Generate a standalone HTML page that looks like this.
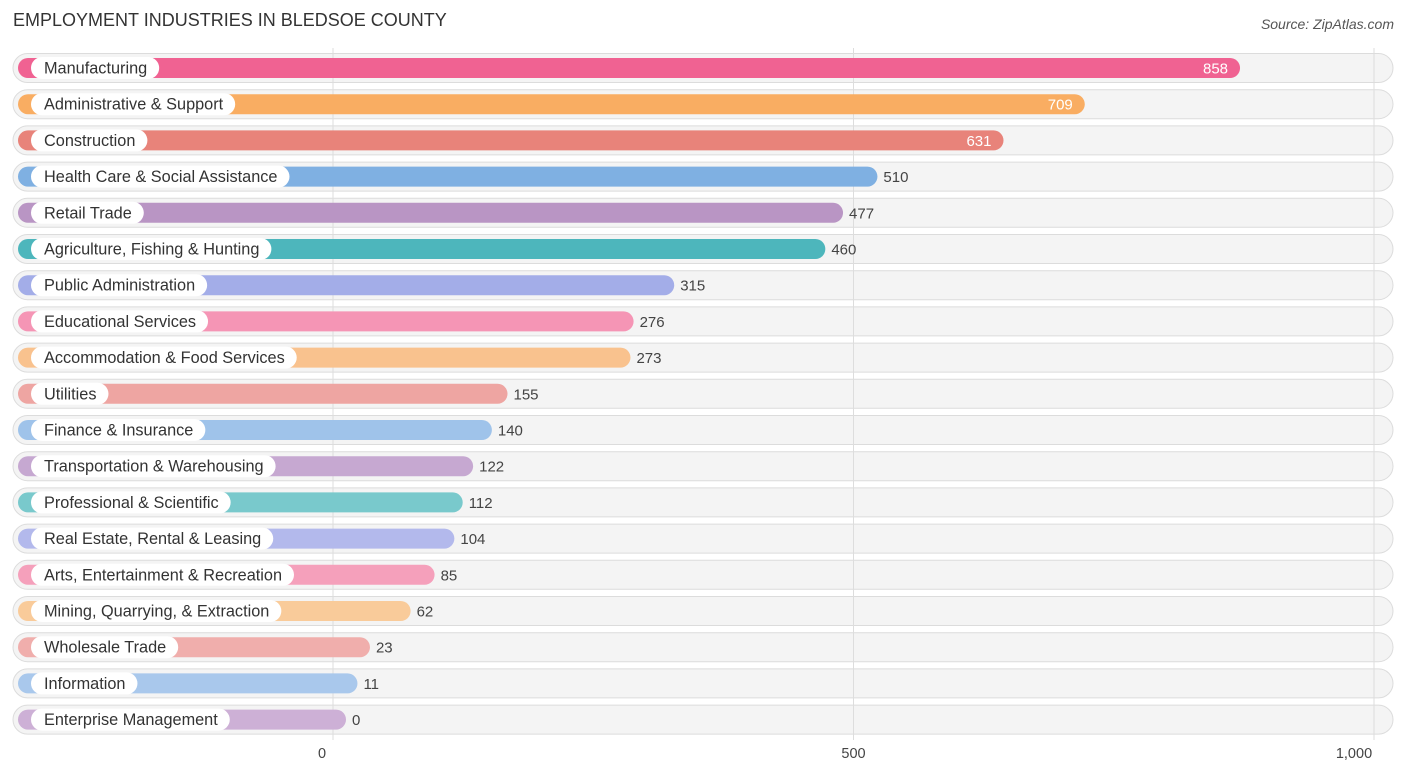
<!DOCTYPE html>
<html><head><meta charset="utf-8"><style>
body{margin:0;background:#fff;font-family:"Liberation Sans",sans-serif;}
#wrap{position:relative;width:1406px;height:776px;overflow:hidden;}
.title{position:absolute;left:13px;top:10px;font-size:18px;color:#333;}
.src{position:absolute;right:12px;top:16px;font-size:14px;color:#555;font-style:italic;}
</style></head><body>
<div id="wrap">
<div class="title">EMPLOYMENT INDUSTRIES IN BLEDSOE COUNTY</div>
<div class="src">Source: ZipAtlas.com</div>
<svg id="svg" width="1406" height="776" style="position:absolute;left:0;top:0"></svg>
</div>
<script>
const categories=["Manufacturing","Administrative & Support","Construction","Health Care & Social Assistance","Retail Trade","Agriculture, Fishing & Hunting","Public Administration","Educational Services","Accommodation & Food Services","Utilities","Finance & Insurance","Transportation & Warehousing","Professional & Scientific","Real Estate, Rental & Leasing","Arts, Entertainment & Recreation","Mining, Quarrying, & Extraction","Wholesale Trade","Information","Enterprise Management"];
const values=[858,709,631,510,477,460,315,276,273,155,140,122,112,104,85,62,23,11,0];
const colors=["#f06292","#f9ad62","#e8837a","#7fb0e2","#b995c4","#4db6bc","#a3ade8","#f595b5","#f9c28e","#eea5a2","#9fc3ea","#c6a8d1","#79c9cc","#b3b9ec","#f5a0bb","#f9cb9a","#f0aeac","#a9c8ec","#cdb0d6"];
const ticks=[0,500,1000];
const tickLabels=["0","500","1,000"];
const svg=document.getElementById('svg');
const NS="http://www.w3.org/2000/svg";
const gx=v=>333+v*1.041;
const bx=v=>346+v*1.042;
const ry=i=>68+i*36.2;
function mk(t,a){const e=document.createElementNS(NS,t);for(const k in a)e.setAttribute(k,a[k]);svg.appendChild(e);return e;}
categories.forEach((c,i)=>{
 const y=ry(i);
 const r=mk('rect',{x:13,y:y-14.5,width:1380,height:29,rx:14.5,fill:'#f4f4f4',stroke:'#dcdcdc','stroke-width':1});
 
 
});
ticks.forEach((t,i)=>{
 const l=mk('line',{x1:gx(t),x2:gx(t),y1:48,y2:740,stroke:'#dddddd','stroke-width':1});
 
 
 const tx=mk('text',{x:gx(t)-(i==2?20:(i==0?11:0)),y:758,'font-size':14.5,fill:'#444','text-anchor':'middle'});
 tx.textContent=tickLabels[i];
 
 
});
categories.forEach((c,i)=>{
 const y=ry(i),v=values[i],end=bx(v);
 const b=mk('rect',{x:18,y:y-10,width:end-18,height:20,rx:10,fill:colors[i]});
 
 
 const lt=mk('text',{x:44,y:y+5.5,'font-size':16.3,fill:'#333'});
 lt.textContent=c;
 const w=lt.getComputedTextLength();
 const p=mk('rect',{x:31,y:y-11,width:w+25,height:22,rx:11,fill:'#fff'});
 
 
 svg.appendChild(lt);
 
 
 const inside=v>600;
 const vt=mk('text',{x:inside?end-12:end+6,y:y+5.5,'font-size':15,fill:inside?'#fff':'#444','text-anchor':inside?'end':'start'});
 vt.textContent=String(v);
 
 
});
</script>
</body></html>
